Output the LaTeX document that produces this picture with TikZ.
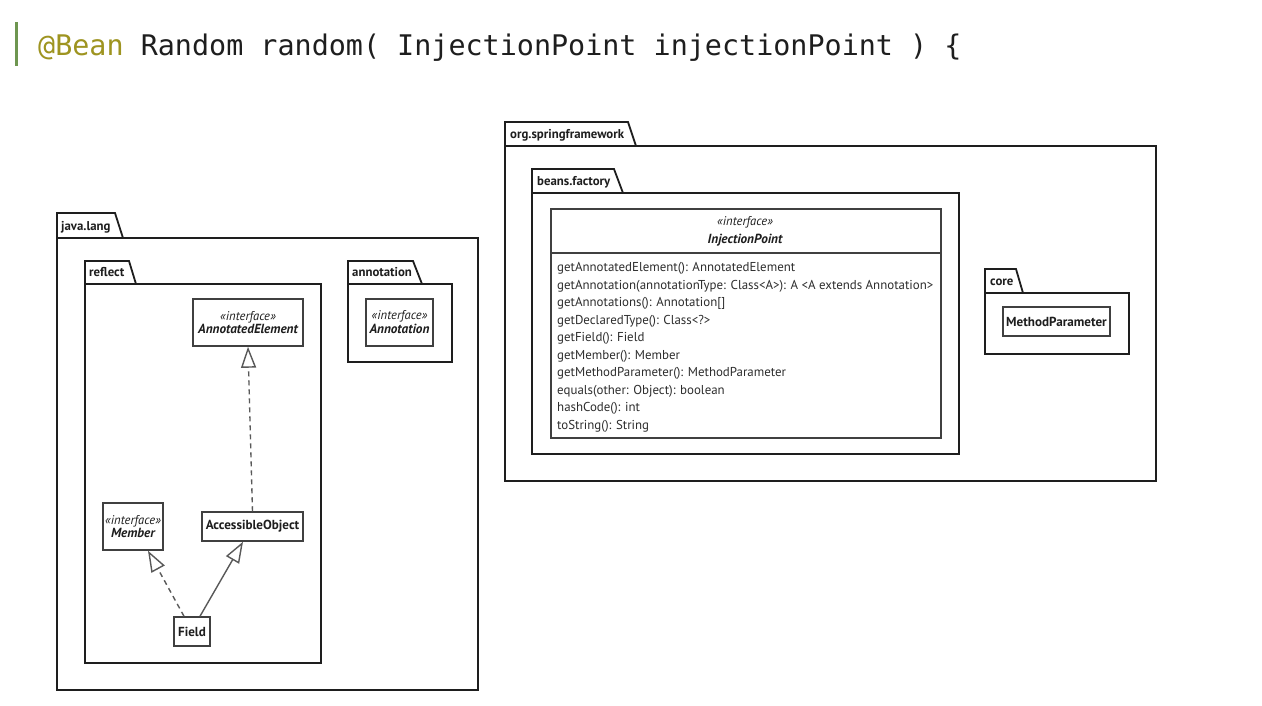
\documentclass[tikz,border=0pt]{standalone}
\usepackage{fontspec}
\setmainfont{PT Sans}
\newfontfamily\codefont{DejaVu Sans Mono}
\usetikzlibrary{arrows.meta,calc}
\definecolor{annot}{RGB}{158,148,32}
\definecolor{barcol}{RGB}{110,150,80}
\definecolor{ink}{RGB}{30,30,30}
\definecolor{methink}{RGB}{45,45,45}
\newcommand{\stereotxt}[1]{{\itshape\fontsize{12.6}{13}\selectfont #1}}
\newcommand{\inametxt}[1]{{\bfseries\itshape\fontsize{13.2}{15}\selectfont #1}}
\begin{document}
\begin{tikzpicture}[x=1pt,y=-1pt,
  pkgtab/.style={draw=ink, line width=1.8pt, fill=white, line join=miter},
  pkgbody/.style={draw=ink, line width=1.8pt, fill=white, anchor=north west, inner sep=0, outer sep=0},
  tablabel/.style={font=\bfseries\fontsize{12.8}{14}\selectfont, anchor=base west, inner sep=0, text=ink},
  cls/.style={draw=ink!85, line width=1.5pt, fill=white, align=center, inner sep=0, text=ink},
  cname/.style={font=\bfseries\fontsize{13.1}{15}\selectfont},
  meth/.style={font=\fontsize{12.9}{15}\selectfont, anchor=base west, inner sep=0, text=methink},
  realize/.style={draw=black!65, line width=1.4pt, dash pattern=on 5pt off 4pt, -{Triangle[length=21pt,width=15pt,fill=white]}},
  inherit/.style={draw=black!65, line width=1.4pt, -{Triangle[length=21pt,width=15pt,fill=white]}}
]
\useasboundingbox[fill=white] (0,0) rectangle (1262,705);

% header code line
\fill[barcol] (15,22) rectangle (17.5,66);
\node[anchor=base west, inner sep=0, font=\codefont\fontsize{28.4}{32}\selectfont] (code) at (38,55)
  {\textcolor{annot}{@Bean} \textcolor{ink}{Random random( InjectionPoint injectionPoint ) \{}};

% java.lang package
\draw[pkgtab] (57,238) -- (57,213) -- (115,213) -- (123,238) -- cycle;
\node[pkgbody, minimum width=421, minimum height=452] (jlb) at (57,238) {};
\node[tablabel] (jl) at (61,230) {java.lang};

% reflect package
\draw[pkgtab] (85,284) -- (85,261) -- (129,261) -- (136,284) -- cycle;
\node[pkgbody, minimum width=236, minimum height=379] (rfb) at (85,284) {};
\node[tablabel] (rf) at (89,276) {reflect};

% annotation package
\draw[pkgtab] (348,284) -- (348,261) -- (413,261) -- (422,284) -- cycle;
\node[pkgbody, minimum width=104, minimum height=78] (anb) at (348,284) {};
\node[tablabel] (an) at (352,276) {annotation};

% classes in java.lang
\node[cls, minimum width=110, minimum height=47] (ae) at (248,322.5)
  {\stereotxt{«interface»}\\[1pt]\inametxt{AnnotatedElement}};
\node[cls, minimum width=67, minimum height=47] (ann) at (399.5,322.5)
  {\stereotxt{«interface»}\\[1pt]\inametxt{Annotation}};
\node[cls, minimum width=60, minimum height=47] (mem) at (133,526.5)
  {\stereotxt{«interface»}\\[1pt]\inametxt{Member}};
\node[cls, minimum width=101, minimum height=29, cname] (acc) at (252.5,526.5) {AccessibleObject};
\node[cls, minimum width=36, minimum height=29, cname] (fld) at (192,631.5) {Field};

% relations
\draw[realize] (acc.north) -- (ae.south);
\draw[realize] ([xshift=-8pt]fld.north) -- ([xshift=15pt]mem.south);
\draw[inherit] ([xshift=8pt]fld.north) -- ([xshift=-9.5pt]acc.south);

% org.springframework package
\draw[pkgtab] (505,146) -- (505,122) -- (628,122) -- (636,146) -- cycle;
\node[pkgbody, minimum width=651, minimum height=335] (osb) at (505,146) {};
\node[tablabel] (os) at (510,138) {org.springframework};

% beans.factory package
\draw[pkgtab] (532,193) -- (532,169) -- (614,169) -- (623,193) -- cycle;
\node[pkgbody, minimum width=427, minimum height=261] (bfb) at (532,193) {};
\node[tablabel] (bf) at (537,185) {beans.factory};

% InjectionPoint
\node[cls, minimum width=390, minimum height=229, anchor=north west] (ip) at (550,208) {};
\draw[draw=ink!85, line width=1.5pt] (ip.west |- 0,253) coordinate (sepw) -- (ip.east |- 0,253) coordinate (sepe);
\node[inner sep=0, text=ink] (ips) at (745,222) {\stereotxt{«interface»}};
\node[inner sep=0, text=ink] (ipn) at (745,240) {\inametxt{InjectionPoint}};
\foreach \t [count=\i] in {
  {getAnnotatedElement(): AnnotatedElement},
  {getAnnotation(annotationType: Class<A>): A <A extends Annotation>},
  {getAnnotations(): Annotation[]},
  {getDeclaredType(): Class<?>},
  {getField(): Field},
  {getMember(): Member},
  {getMethodParameter(): MethodParameter},
  {equals(other: Object): boolean},
  {hashCode(): int},
  {toString(): String}}
  \node[meth] (m\i) at (557,254+17.5*\i) {\t};

% core package
\draw[pkgtab] (985,293) -- (985,269) -- (1016,269) -- (1023,293) -- cycle;
\node[pkgbody, minimum width=144, minimum height=61] (cob) at (985,293) {};
\node[tablabel] (co) at (990,285) {core};
\node[cls, minimum width=107, minimum height=29, cname] (mp) at (1056.5,321.5) {MethodParameter};
\end{tikzpicture}
\end{document}
